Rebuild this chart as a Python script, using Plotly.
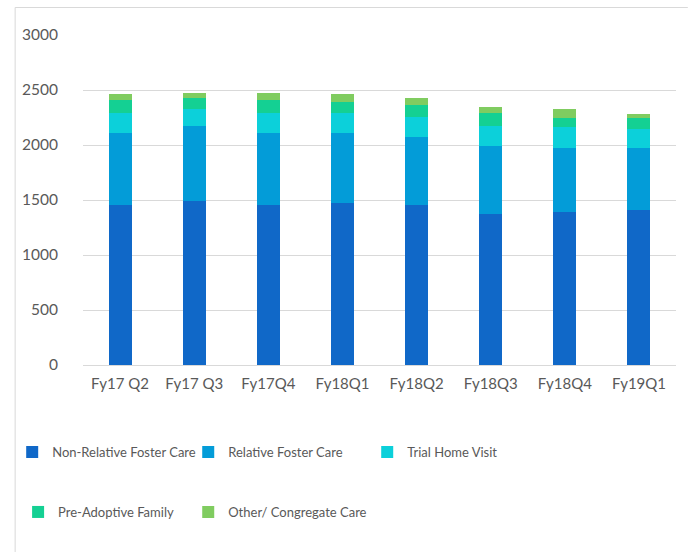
import plotly.graph_objects as go

categories = ["Fy17 Q2", "Fy17 Q3", "Fy17Q4", "Fy18Q1", "Fy18Q2", "Fy18Q3", "Fy18Q4", "Fy19Q1"]
non_relative = [1455, 1489, 1455, 1471, 1455, 1373, 1391, 1409]
relative = [656, 685, 656, 640, 619, 619, 585, 567]
trial_home = [182, 152, 182, 182, 183, 182, 186, 168]
pre_adoptive = [116, 101, 116, 101, 103, 119, 82, 100]
other_congregate = [52, 49, 67, 67, 67, 49, 86, 37]
y_ticks = [0, 500, 1000, 1500, 2000, 2500, 3000]

W, H = 688, 552
L, R, T, B = 73, 12, 35, 187
pw, ph = W - L - R, H - T - B

def px(x):
    return (x - L) / pw

def py(y):
    return (H - B - y) / ph

series = [
    ("Non-Relative Foster Care", non_relative, "#1068C8", "legend", 1, 452),
    ("Relative Foster Care", relative, "#039CD8", "legend2", 180, 452),
    ("Trial Home Visit", trial_home, "#0CD0DA", "legend3", 362, 452),
    ("Pre-Adoptive Family", pre_adoptive, "#14D093", "legend4", 7, 512),
    ("Other/ Congregate Care", other_congregate, "#80CC60", "legend5", 180, 512),
]

font_color = "#595959"
fig = go.Figure()
legends = {}
for name, vals, color, leg, lx, ly in series:
    fig.add_trace(go.Bar(
        x=categories, y=vals, name=name, legend=leg, showlegend=True,
        marker=dict(color=color, line=dict(width=0)),
    ))
    legends[leg] = dict(orientation="h", x=px(lx), xanchor="left", y=py(ly), yanchor="middle",
                        itemwidth=30, font=dict(size=13, color=font_color),
                        bgcolor="rgba(0,0,0,0)", visible=True)

fig.update_layout(
    width=W, height=H,
    showlegend=True,
    margin=dict(l=L, r=R, t=T, b=B, pad=0),
    barmode="stack", bargap=0.69,
    plot_bgcolor="white", paper_bgcolor="white",
    font=dict(family="Lato", size=15, color=font_color),
    xaxis=dict(showgrid=False, showline=False, zeroline=False, ticks="",
               tickfont=dict(size=15, color=font_color), ticklabelstandoff=8),
    yaxis=dict(range=[0, 3000], tickvals=y_ticks, showgrid=True, gridcolor="#D9D9D9",
               gridwidth=1, zeroline=True, zerolinecolor="#D9D9D9", zerolinewidth=1,
               showline=False, ticks="", tickfont=dict(size=15.5, color=font_color),
               ticklabelstandoff=24),
    shapes=[
        dict(type="line", xref="paper", yref="paper", x0=px(4), x1=px(688), y0=py(7.5), y1=py(7.5),
             line=dict(color="#D9D9D9", width=1)),
        dict(type="line", xref="paper", yref="paper", x0=px(4), x1=px(4), y0=py(7.5), y1=py(552),
             line=dict(color="#D9D9D9", width=1)),
    ],
    **legends,
)

fig.write_html("out.html", config={"displayModeBar": False},
               post_script="document.body.style.margin='0';document.body.style.overflow='hidden';")
